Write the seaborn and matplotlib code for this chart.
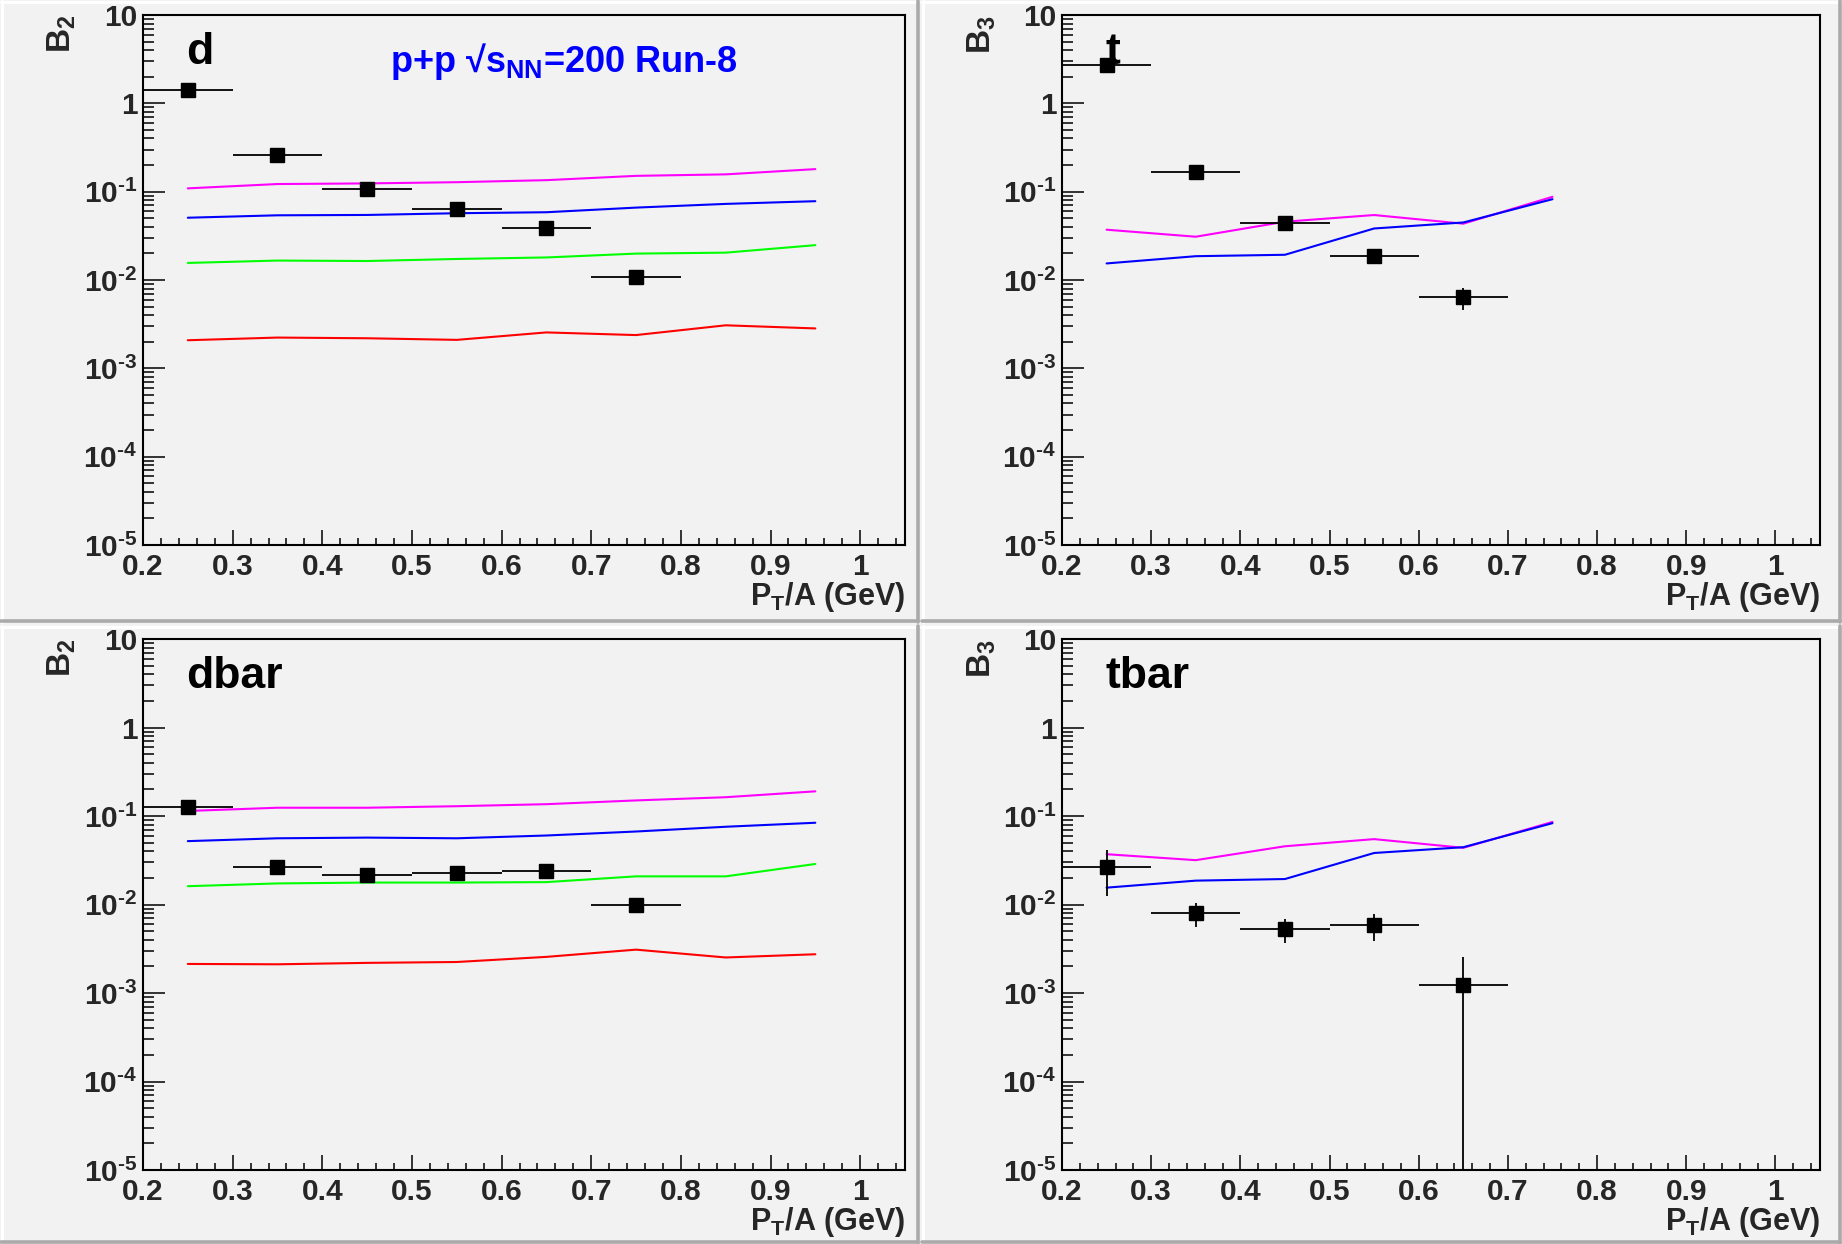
import numpy as np
import pandas as pd
import matplotlib
matplotlib.use("Agg")
import matplotlib.pyplot as plt
from matplotlib.ticker import FixedLocator, FixedFormatter, MultipleLocator
from matplotlib.lines import Line2D
import seaborn as sns

# ---------------- data ----------------
x_model_d = [0.25, 0.35, 0.45, 0.55, 0.65, 0.75, 0.85, 0.95]
x_model_t = [0.25, 0.35, 0.45, 0.55, 0.65, 0.75]

# d panel
d_x = [0.25, 0.35, 0.45, 0.55, 0.65, 0.75]
d_y = [1.43, 0.26, 0.106, 0.064, 0.0383, 0.0107]
d_yerr = [0.0, 0.0, 0.0, 0.0, 0.0, 0.0]
d_magenta = [0.109, 0.122, 0.124, 0.128, 0.135, 0.151, 0.157, 0.180]
d_blue = [0.0507, 0.054, 0.0545, 0.057, 0.0585, 0.066, 0.0727, 0.078]
d_green = [0.0156, 0.0166, 0.0164, 0.0173, 0.0180, 0.0199, 0.0204, 0.0248]
d_red = [0.00208, 0.00223, 0.00219, 0.00210, 0.00255, 0.00238, 0.00307, 0.00283]

# t panel
t_x = [0.25, 0.35, 0.45, 0.55, 0.65]
t_y = [2.75, 0.169, 0.0442, 0.0186, 0.00642]
t_yerr = [0.0, 0.0, 0.0, 0.0, 0.0018]
t_magenta = [0.0371, 0.0309, 0.0457, 0.0544, 0.0434, 0.0875]
t_blue = [0.0154, 0.0186, 0.0193, 0.0383, 0.0448, 0.0822]

# dbar panel
dbar_x = [0.25, 0.35, 0.45, 0.55, 0.65, 0.75]
dbar_y = [0.128, 0.0263, 0.0214, 0.0225, 0.0237, 0.0100]
dbar_yerr = [0.0, 0.0, 0.0, 0.0, 0.0, 0.0]
dbar_magenta = [0.114, 0.124, 0.124, 0.129, 0.136, 0.150, 0.163, 0.190]
dbar_blue = [0.052, 0.056, 0.057, 0.056, 0.0602, 0.0668, 0.0756, 0.0839]
dbar_green = [0.0161, 0.0173, 0.0177, 0.0177, 0.0179, 0.0208, 0.0208, 0.0287]
dbar_red = [0.00213, 0.00211, 0.00219, 0.00224, 0.00256, 0.00309, 0.00252, 0.00274]

# tbar panel
tbar_x = [0.25, 0.35, 0.45, 0.55, 0.65]
tbar_y = [0.0266, 0.00805, 0.00532, 0.0059, 0.00123]
tbar_yerr = [0.0142, 0.00245, 0.0016, 0.0020, 0.00131]
tbar_magenta = [0.0370, 0.0317, 0.0455, 0.0548, 0.0437, 0.0857]
tbar_blue = [0.0155, 0.0186, 0.0194, 0.0382, 0.0444, 0.0830]

x_err_half = 0.05

panel_labels = ["d", "t", "dbar", "tbar"]
y_titles = ["B$_{2}$", "B$_{3}$", "B$_{2}$", "B$_{3}$"]
x_title = "P$_{T}$/A (GeV)"
info_text = "p+p \u221as$_{NN}$=200 Run-8"

y_tick_vals = [1e-5, 1e-4, 1e-3, 1e-2, 1e-1, 1, 10]
y_tick_labels = ["10$^{\u2010" + "5}$", "10$^{\u2010" + "4}$", "10$^{\u2010" + "3}$",
                 "10$^{\u2010" + "2}$", "10$^{\u2010" + "1}$", "1", "10"]
x_tick_vals = [0.2, 0.3, 0.4, 0.5, 0.6, 0.7, 0.8, 0.9, 1.0]
x_tick_labels = ["0.2", "0.3", "0.4", "0.5", "0.6", "0.7", "0.8", "0.9", "1"]

colors = {"magenta": "#ff00ff", "blue": "#0000ff", "green": "#00ff00", "red": "#ff0000"}

panels = [
    dict(px=d_x, py=d_y, pe=d_yerr, xm=x_model_d,
         models=[("magenta", d_magenta), ("blue", d_blue), ("green", d_green), ("red", d_red)]),
    dict(px=t_x, py=t_y, pe=t_yerr, xm=x_model_t,
         models=[("magenta", t_magenta), ("blue", t_blue)]),
    dict(px=dbar_x, py=dbar_y, pe=dbar_yerr, xm=x_model_d,
         models=[("magenta", dbar_magenta), ("blue", dbar_blue), ("green", dbar_green), ("red", dbar_red)]),
    dict(px=tbar_x, py=tbar_y, pe=tbar_yerr, xm=x_model_t,
         models=[("magenta", tbar_magenta), ("blue", tbar_blue)]),
]

# ---------------- style ----------------
sns.set_style("ticks")
plt.rcParams["font.family"] = ["Liberation Sans", "DejaVu Sans"]
plt.rcParams["font.weight"] = "bold"
plt.rcParams["mathtext.default"] = "regular"
plt.rcParams["axes.unicode_minus"] = False

BG = "#f2f2f2"
W, H = 1842, 1244
fig = plt.figure(figsize=(W / 100, H / 100), dpi=100, facecolor=BG)

def fx(px):
    return px / W

def fy(py):
    return 1 - py / H

# pad bevels (figure decoration)
pads = [(0, 0, 920, 623), (921, 0, 1842, 623), (0, 625, 920, 1244), (921, 625, 1842, 1244)]
for (x0, y0, x1, y1) in pads:
    fig.add_artist(Line2D([fx(x0 + 1), fx(x1 - 1)], [fy(y0 + 2), fy(y0 + 2)], color="white", lw=2.2))
    fig.add_artist(Line2D([fx(x0 + 2), fx(x0 + 2)], [fy(y0 + 1), fy(y1 - 1)], color="white", lw=2.2))
    fig.add_artist(Line2D([fx(x0 + 1), fx(x1 - 2)], [fy(y1 - 2), fy(y1 - 2)], color="#aaaaaa", lw=2.6))
    fig.add_artist(Line2D([fx(x1 - 2), fx(x1 - 2)], [fy(y0 + 1), fy(y1 - 1)], color="#aaaaaa", lw=2.6))

ax_rects = [
    (143, 15, 905, 545),
    (1062, 15, 1820, 545),
    (143, 639, 905, 1170),
    (1062, 639, 1820, 1170),
]

for i, (rect, p) in enumerate(zip(ax_rects, panels)):
    x0, y0, x1, y1 = rect
    ax = fig.add_axes([x0 / W, 1 - y1 / H, (x1 - x0) / W, (y1 - y0) / H])
    ax.set_facecolor(BG)
    ax.set_yscale("log")
    ax.set_xlim(0.2, 1.05)
    ax.set_ylim(1e-5, 10)

    for cname, vals in p["models"]:
        df = pd.DataFrame({"x": p["xm"], "y": vals})
        sns.lineplot(data=df, x="x", y="y", ax=ax, color=colors[cname],
                     linewidth=1.5, legend=False, zorder=2)

    ax.errorbar(p["px"], p["py"], xerr=x_err_half, yerr=p["pe"], fmt="s",
                color="black", ms=10.5, elinewidth=1.3, capsize=0, zorder=3)

    # ticks
    ax.yaxis.set_major_locator(FixedLocator(y_tick_vals))
    ax.yaxis.set_major_formatter(FixedFormatter(y_tick_labels))
    minors = [m * 10.0 ** e for e in range(-5, 1) for m in range(2, 10)]
    ax.yaxis.set_minor_locator(FixedLocator(minors))
    ax.xaxis.set_major_locator(FixedLocator(x_tick_vals))
    ax.xaxis.set_major_formatter(FixedFormatter(x_tick_labels))
    ax.xaxis.set_minor_locator(MultipleLocator(0.02))

    ax.tick_params(axis="both", which="both", direction="in", top=False, right=False,
                   color="black", width=1.1)
    ax.tick_params(axis="x", which="major", length=11, pad=6, labelsize=21.5)
    ax.tick_params(axis="x", which="minor", length=5)
    ax.tick_params(axis="y", which="major", length=16, pad=4, labelsize=21.5)
    ax.tick_params(axis="y", which="minor", length=8)
    for lab in ax.get_xticklabels() + ax.get_yticklabels():
        lab.set_fontweight("bold")

    for s in ax.spines.values():
        s.set_color("black")
        s.set_linewidth(1.5)

    ax.set_xlabel(x_title, fontsize=22, fontweight="bold", loc="right")
    ax.xaxis.set_label_coords(1.0, -0.066)
    ax.set_ylabel(y_titles[i], fontsize=24, fontweight="bold", loc="top")
    ax.yaxis.set_label_coords(-0.085, 1.0)

    ax.text(0.057, 0.908, panel_labels[i], transform=ax.transAxes, fontsize=32,
            fontweight="bold", ha="left", va="baseline", color="black", zorder=4)
    if i == 0:
        ax.text(0.324, 0.893, info_text, transform=ax.transAxes, fontsize=26,
                fontweight="bold", ha="left", va="baseline", color="#0000ff")

fig.savefig("out.png", dpi=100, facecolor=BG)
